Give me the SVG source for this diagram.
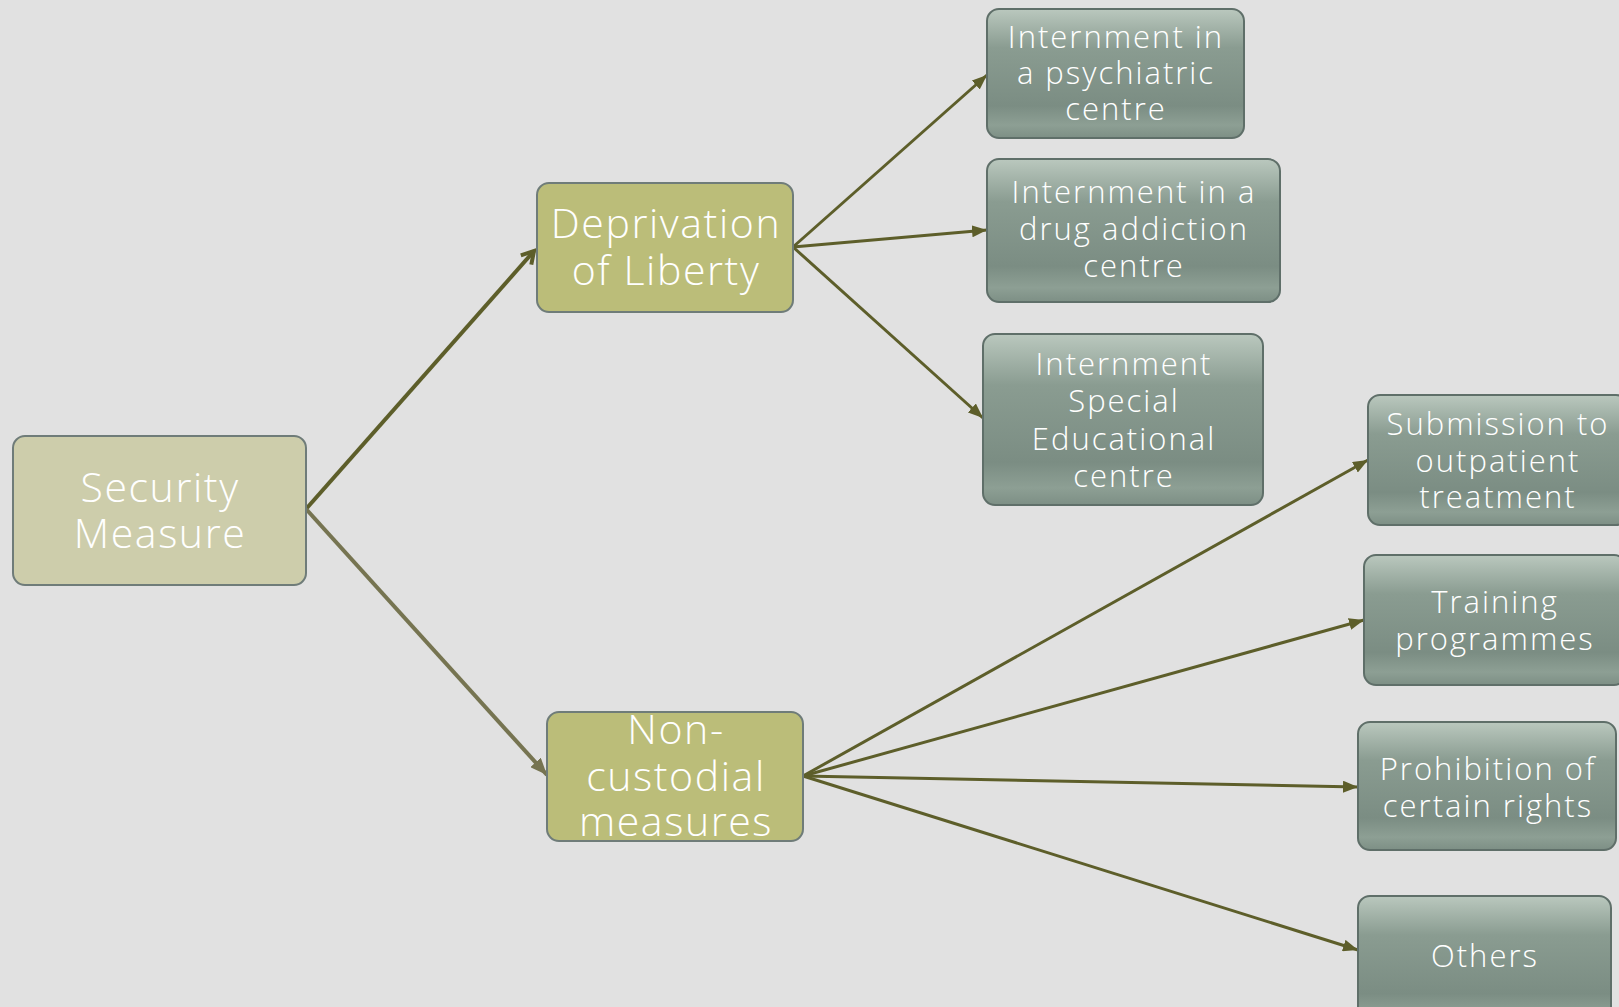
<svg xmlns="http://www.w3.org/2000/svg" width="1619" height="1007" viewBox="0 0 1619 1007">
<defs>
<linearGradient id="gg" x1="0" y1="0" x2="0" y2="1">
<stop offset="0" stop-color="#bac8be"/>
<stop offset="0.3" stop-color="#8a9c91"/>
<stop offset="0.75" stop-color="#7b8d83"/>
<stop offset="0.9" stop-color="#8d9f94"/>
<stop offset="1" stop-color="#7d8f85"/>
</linearGradient>
<marker id="ah" markerUnits="userSpaceOnUse" markerWidth="16" markerHeight="12" refX="15" refY="6" orient="auto">
<path d="M0,0 L15,6 L0,12 z" fill="#5d5e2a"/>
</marker>
<marker id="ah2" markerUnits="userSpaceOnUse" markerWidth="18" markerHeight="14" refX="17" refY="7" orient="auto">
<path d="M0,0 L17,7 L0,14 z" fill="#767451"/>
</marker>
<marker id="chev" markerUnits="userSpaceOnUse" markerWidth="18" markerHeight="18" refX="14" refY="9" orient="auto">
<path d="M2,2 L14,9 L2,16" fill="none" stroke="#5d5e2a" stroke-width="4"/>
</marker>
</defs>
<style>
.bg{fill:#e1e1e1}
.y1{fill:#cdcdab;stroke:#6f7c79;stroke-width:2}
.y2{fill:#bbbd79;stroke:#6f7c79;stroke-width:2}
.g{fill:url(#gg);stroke:#5f6f69;stroke-width:2}
text{font-family:"Open Sans","DejaVu Sans",sans-serif;font-weight:300;fill:#ffffff;text-anchor:middle}
.big{font-size:41px;letter-spacing:1.6px}
.sm{font-size:31px;letter-spacing:2px}
.c{fill:none;stroke:#5d5e2a;stroke-width:3}
</style>
<rect class="bg" x="0" y="0" width="1619" height="1007"/>
<g id="connectors">
<line class="c" x1="306" y1="509" x2="534" y2="251" style="stroke-width:4" marker-end="url(#chev)"/>
<line class="c" x1="306" y1="509" x2="547" y2="775" style="stroke-width:4;stroke:#767451" marker-end="url(#ah2)"/>
<line class="c" x1="793" y1="247" x2="987" y2="75" marker-end="url(#ah)"/>
<line class="c" x1="793" y1="247" x2="987" y2="230" marker-end="url(#ah)"/>
<line class="c" x1="793" y1="247" x2="983" y2="418" marker-end="url(#ah)"/>
<line class="c" x1="803" y1="776" x2="1368" y2="460" marker-end="url(#ah)"/>
<line class="c" x1="803" y1="776" x2="1364" y2="620" marker-end="url(#ah)"/>
<line class="c" x1="803" y1="776" x2="1358" y2="787" marker-end="url(#ah)"/>
<line class="c" x1="803" y1="776" x2="1358" y2="950" marker-end="url(#ah)"/>
</g>
<g id="security">
<rect class="y1" x="13" y="436" width="293" height="149" rx="12"/>
<text class="big" x="160" y="502">Security</text>
<text class="big" x="160" y="548">Measure</text>
</g>
<g id="deprivation">
<rect class="y2" x="537" y="183" width="256" height="129" rx="12"/>
<text class="big" x="666" y="238">Deprivation</text>
<text class="big" x="666" y="285">of Liberty</text>
</g>
<g id="noncustodial">
<rect class="y2" x="547" y="712" width="256" height="129" rx="12"/>
<text class="big" x="676" y="744">Non-</text>
<text class="big" x="676" y="791">custodial</text>
<text class="big" x="676" y="836">measures</text>
</g>
<g id="psychiatric">
<rect class="g" x="987" y="9" width="257" height="129" rx="12"/>
<text class="sm" x="1116" y="48">Internment in</text>
<text class="sm" x="1116" y="84">a psychiatric</text>
<text class="sm" x="1116" y="120">centre</text>
</g>
<g id="drug">
<rect class="g" x="987" y="159" width="293" height="143" rx="12"/>
<text class="sm" x="1134" y="203">Internment in a</text>
<text class="sm" x="1134" y="240">drug addiction</text>
<text class="sm" x="1134" y="277">centre</text>
</g>
<g id="special">
<rect class="g" x="983" y="334" width="280" height="171" rx="12"/>
<text class="sm" x="1124" y="375">Internment</text>
<text class="sm" x="1124" y="412">Special</text>
<text class="sm" x="1124" y="450">Educational</text>
<text class="sm" x="1124" y="487">centre</text>
</g>
<g id="submission">
<rect class="g" x="1368" y="395" width="260" height="130" rx="12"/>
<text class="sm" x="1498" y="435">Submission to</text>
<text class="sm" x="1498" y="472">outpatient</text>
<text class="sm" x="1498" y="508">treatment</text>
</g>
<g id="training">
<rect class="g" x="1364" y="555" width="262" height="130" rx="12"/>
<text class="sm" x="1495" y="613">Training</text>
<text class="sm" x="1495" y="650">programmes</text>
</g>
<g id="prohibition">
<rect class="g" x="1358" y="722" width="258" height="128" rx="12"/>
<text class="sm" x="1488" y="780">Prohibition of</text>
<text class="sm" x="1488" y="817">certain rights</text>
</g>
<g id="others">
<rect class="g" x="1358" y="896" width="253" height="130" rx="12"/>
<text class="sm" x="1485" y="967">Others</text>
</g>
</svg>
